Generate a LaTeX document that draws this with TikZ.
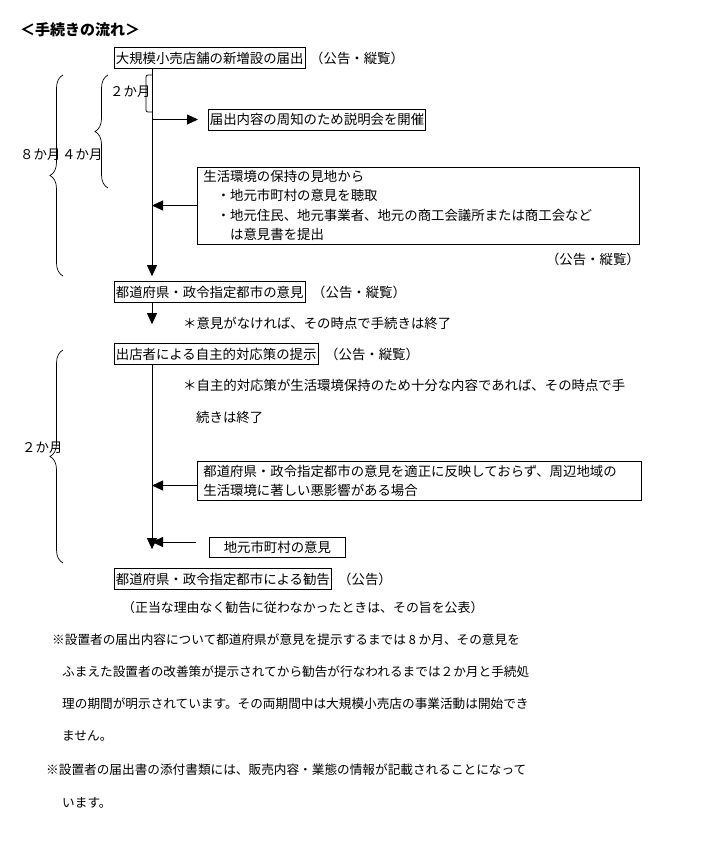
\documentclass[tikz,border=0pt]{standalone}
\usepackage{fontspec}
\setmainfont{Noto Sans CJK JP}
\usetikzlibrary{arrows.meta,decorations.pathreplacing}

\begin{document}
\begin{tikzpicture}[x=1pt,y=-1pt,
    box/.style={draw,line width=0.7pt,anchor=west,inner xsep=1.5pt,inner ysep=0pt,minimum height=21pt,font=\fontsize{13.4}{19.2}\selectfont},
    txt/.style={anchor=west,inner sep=0pt,font=\fontsize{13.4}{19.2}\selectfont},
    note/.style={anchor=west,inner sep=0pt,font=\fontsize{12.65}{15}\selectfont},
    flow/.style={-{Triangle[length=11pt,width=10pt]},line width=0.9pt},
    brc/.style={decorate,decoration={brace,amplitude=13pt},line width=0.7pt}]
  \useasboundingbox (0,0) rectangle (702,842);
  \coordinate (mx) at (152,0);

  % title
  \node[anchor=west,inner sep=0pt,font=\fontsize{15}{15}\selectfont\bfseries] (title) at (20,30) {＜手続きの流れ＞};

  % first stage
  \node[box] (notify) at (114,58) {大規模小売店舗の新増設の届出};
  \node[txt] (pub1) at (310,58) {（公告・縦覧）};
  \node[box] (brief) at (208,119.5) {届出内容の周知のため説明会を開催};
  \node[box,text width=430pt,minimum height=77pt,align=left,inner xsep=6pt] (local) at (197,205.5)
    {生活環境の保持の見地から\\
     \hspace*{1em}・地元市町村の意見を聴取\\
     \hspace*{1em}・地元住民、地元事業者、地元の商工会議所または商工会など\\
     \hspace*{2em}は意見書を提出};
  \node[txt,anchor=east] (pub2) at (640,259) {（公告・縦覧）};
  \node[box] (opinion) at (114,292) {都道府県・政令指定都市の意見};
  \node[txt] (pub3) at (312,292) {（公告・縦覧）};
  \node[txt] (end1) at (183,323) {＊意見がなければ、その時点で手続きは終了};

  % second stage
  \node[box] (plan) at (114,354) {出店者による自主的対応策の提示};
  \node[txt] (pub4) at (325,354) {（公告・縦覧）};
  \node[txt] (end2) at (183,385) {＊自主的対応策が生活環境保持のため十分な内容であれば、その時点で手};
  \node[txt] (end2b) at (196,417) {続きは終了};
  \node[box,text width=432pt,minimum height=39pt,align=left,inner xsep=6pt] (harm) at (197,480.5)
    {都道府県・政令指定都市の意見を適正に反映しておらず、周辺地域の\\生活環境に著しい悪影響がある場合};
  \node[box,minimum width=136pt,minimum height=20pt] (town) at (209,547) {地元市町村の意見};
  \node[box] (advice) at (114,579) {都道府県・政令指定都市による勧告};
  \node[txt] (pub5) at (338,579) {（公告）};
  \node[txt,font=\fontsize{12.9}{15}\selectfont] (publish) at (122,608) {（正当な理由なく勧告に従わなかったときは、その旨を公表）};

  % flow lines
  \draw[flow,shorten >=5pt] (notify.south -| mx) -- (opinion.north -| mx);
  \draw[flow,shorten >=10pt] (mx |- brief.west) -- (brief.west);
  \draw[flow] (local.west) -- (local.west -| mx);
  \draw[flow,shorten >=19pt] (opinion.south -| mx) -- (plan.north -| mx);
  \draw[flow,shorten >=19pt] (plan.south -| mx) -- (advice.north -| mx);
  \draw[flow] ([yshift=-5pt]harm.west) -- ([yshift=-5pt]harm.west -| mx);
  \draw[flow,shorten <=13pt] ([yshift=5pt]town.west) -- ([yshift=5pt]town.west -| mx);

  % periods
  \draw[line width=0.7pt,rounded corners=2pt] (152,75) -- (146,75) -- (146,112) -- (152,112);
  \node[txt] (m2a) at (110,92) {２か月};
  \draw[brc] (108,188) -- (108,75);
  \node[txt] (m4) at (62,155) {４か月};
  \draw[brc] (63,276) -- (63,75);
  \node[txt] (m8) at (20,155) {８か月};
  \draw[brc] (63,563) -- (63,350);
  \node[txt] (m2b) at (22,448) {２か月};

  % notes
  \node[note] (n1) at (52,640) {※設置者の届出内容について都道府県が意見を提示するまでは 8 か月、その意見を};
  \node[note] (n2) at (62,672) {ふまえた設置者の改善策が提示されてから勧告が行なわれるまでは２か月と手続処};
  \node[note] (n3) at (62,704) {理の期間が明示されています。その両期間中は大規模小売店の事業活動は開始でき};
  \node[note] (n4) at (62,736) {ません。};
  \node[note] (n5) at (46,770) {※設置者の届出書の添付書類には、販売内容・業態の情報が記載されることになって};
  \node[note] (n6) at (62,803) {います。};
\end{tikzpicture}
\end{document}
